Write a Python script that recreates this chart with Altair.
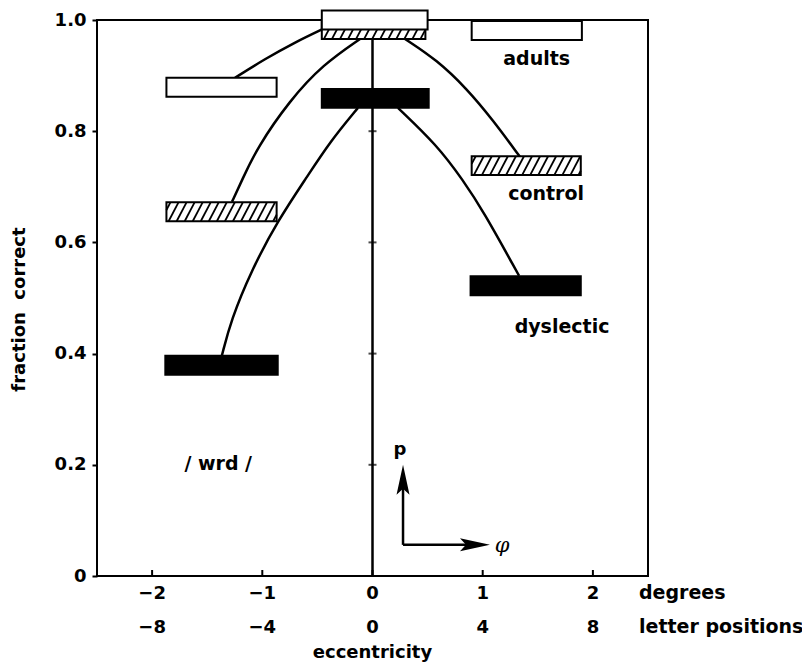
import altair as alt
import pandas as pd

# ---------------- data ----------------
# boxes: eccentricity extent (degrees) and fraction correct
adults_lo = [-1.87, -0.46, 0.90]
adults_hi = [-0.87, 0.50, 1.90]
adults_p = [0.879, 1.000, 0.981]

control_lo = [-1.87, -0.46, 0.90]
control_hi = [-0.87, 0.48, 1.89]
control_p = [0.655, 0.983, 0.738]

dys_lo = [-1.88, -0.46, 0.89]
dys_hi = [-0.86, 0.51, 1.89]
dys_p = [0.379, 0.859, 0.522]

# connecting curves
curve_adults_left_x = [-1.248, -0.975, -0.703, -0.449]
curve_adults_left_y = [0.896, 0.930, 0.960, 0.984]
curve_control_left_x = [-1.275, -1.184, -1.048, -0.749, -0.449, -0.113]
curve_control_left_y = [0.673, 0.712, 0.770, 0.856, 0.920, 0.966]
curve_dys_left_x = [-1.366, -1.284, -1.103, -0.857, -0.594, -0.386, -0.132]
curve_dys_left_y = [0.397, 0.460, 0.548, 0.640, 0.718, 0.781, 0.842]
curve_control_right_x = [0.295, 0.585, 0.858, 1.093, 1.338]
curve_control_right_y = [0.966, 0.928, 0.876, 0.820, 0.754]
curve_dys_right_x = [0.231, 0.585, 0.821, 1.003, 1.330]
curve_dys_right_y = [0.842, 0.775, 0.712, 0.657, 0.540]

y_ticks = [0, 0.2, 0.4, 0.6, 0.8, 1.0]
center_marks = [0.2, 0.4, 0.6, 0.8]
deg_ticks = [-2, -1, 0, 1, 2]
letter_ticks = [-8, -4, 0, 4, 8]
LETTERS_PER_DEG = 4

group_labels = ["adults", "control", "dyslectic", "/ wrd /"]
group_label_x = [1.49, 1.575, 1.72, -1.40]
group_label_y = [0.919, 0.676, 0.437, 0.19]

# inset axes arrow (p vs phi)
arrow_x0, arrow_y0 = 0.277, 0.056
arrow_up_tip = 0.200
arrow_right_tip = 1.066

# ---------------- styling constants ----------------
W, H = 551, 556
X_DOM = [-2.5, 2.5]
BOX_HALF = 0.017          # half box height in data units
HATCH_SP = 0.073          # hatch spacing (x, data units)
HATCH_RUN = 0.09          # hatch horizontal run over box height
FONT = "DejaVu Sans"

xs = alt.Scale(domain=X_DOM)
ys = alt.Scale(domain=[0, 1])

yaxis = alt.Axis(
    values=y_ticks,
    labelExpr="datum.value == 0 ? '0' : format(datum.value, '.1f')",
    title="fraction\u00a0\u00a0correct",
    titleX=-78, titleY=289, titleAngle=270, titleAlign="center",
    titleBaseline="middle",
    domain=False, grid=False, tickSize=5, tickWidth=2, tickColor="black",
    labelPadding=6,
)


def X(field):
    return alt.X(field, type="quantitative", scale=xs, axis=None)


def Y(field):
    return alt.Y(field, type="quantitative", scale=ys, axis=yaxis)


def boxes(lo, hi, p):
    return pd.DataFrame({
        "x1": lo, "x2": hi,
        "y1": [v - BOX_HALF for v in p], "y2": [v + BOX_HALF for v in p],
    })


def hatch(lo, hi, p):
    rows = []
    for a, b, v in zip(lo, hi, p):
        yl, yh = v - BOX_HALF, v + BOX_HALF
        s = a - HATCH_RUN + HATCH_SP / 2
        while s < b:
            xa, ya, xb, yb = s, yl, s + HATCH_RUN, yh
            if xa < a:
                ya = yl + (a - s) / HATCH_RUN * (yh - yl)
                xa = a
            if xb > b:
                yb = yl + (b - s) / HATCH_RUN * (yh - yl)
                xb = b
            if xb > xa:
                rows.append({"x1": xa, "y1": ya, "x2": xb, "y2": yb})
            s += HATCH_SP
    return pd.DataFrame(rows)


curves = []
for name, cx, cy in [
    ("al", curve_adults_left_x, curve_adults_left_y),
    ("cl", curve_control_left_x, curve_control_left_y),
    ("dl", curve_dys_left_x, curve_dys_left_y),
    ("cr", curve_control_right_x, curve_control_right_y),
    ("dr", curve_dys_right_x, curve_dys_right_y),
]:
    for a, b in zip(cx, cy):
        curves.append({"curve": name, "x": a, "y": b})
curves = pd.DataFrame(curves)

# zero line
zero = alt.Chart(pd.DataFrame({"x": [0]})).mark_rule(
    color="black", strokeWidth=2.5).encode(x=X("x"))

center_ticks = alt.Chart(pd.DataFrame({"x": [0] * len(center_marks), "y": center_marks})).mark_tick(
    orient="horizontal", color="black", size=8, thickness=2).encode(x=X("x"), y=Y("y"))

bottom_ticks = alt.Chart(pd.DataFrame({"x": deg_ticks})).mark_rule(
    color="black", strokeWidth=2).encode(x=X("x"), y=alt.value(H), y2=alt.value(H - 6))

lines = alt.Chart(curves).mark_line(
    color="black", strokeWidth=2.5, interpolate="basis").encode(
    x=X("x"), y=Y("y"), detail="curve:N")

control_rect = alt.Chart(boxes(control_lo, control_hi, control_p)).mark_rect(
    fill="white", stroke="black", strokeWidth=2).encode(
    x=X("x1"), x2="x2", y=Y("y1"), y2="y2")
control_hatch = alt.Chart(hatch(control_lo, control_hi, control_p)).mark_rule(
    color="black", strokeWidth=1.8).encode(
    x=X("x1"), x2="x2", y=Y("y1"), y2="y2")
adults_rect = alt.Chart(boxes(adults_lo, adults_hi, adults_p)).mark_rect(
    fill="white", stroke="black", strokeWidth=2).encode(
    x=X("x1"), x2="x2", y=Y("y1"), y2="y2")
dys_rect = alt.Chart(boxes(dys_lo, dys_hi, dys_p)).mark_rect(
    fill="black", stroke="black", strokeWidth=2).encode(
    x=X("x1"), x2="x2", y=Y("y1"), y2="y2")

labels = alt.Chart(pd.DataFrame({"t": group_labels, "x": group_label_x, "y": group_label_y})).mark_text(
    font=FONT, fontWeight="bold", fontSize=19, color="black", align="center",
    baseline="alphabetic").encode(x=X("x"), y=Y("y"), text="t:N")

# x tick labels (two rows)
deg_lab = alt.Chart(pd.DataFrame({
    "x": deg_ticks,
    "t": [("\u2212" + str(-v)) if v < 0 else str(v) for v in deg_ticks]})).mark_text(
    font=FONT, fontWeight="bold", fontSize=18, color="black", align="center",
    baseline="alphabetic").encode(x=X("x"), y=alt.value(579), text="t:N")
let_lab = alt.Chart(pd.DataFrame({
    "x": [v / LETTERS_PER_DEG for v in letter_ticks],
    "t": [("\u2212" + str(-v)) if v < 0 else str(v) for v in letter_ticks]})).mark_text(
    font=FONT, fontWeight="bold", fontSize=18, color="black", align="center",
    baseline="alphabetic").encode(x=X("x"), y=alt.value(613), text="t:N")

row_titles = alt.Chart(pd.DataFrame({
    "t": ["degrees", "letter positions"], "py": [579, 613]})).mark_text(
    font=FONT, fontWeight="bold", fontSize=19, color="black", align="left",
    baseline="alphabetic").encode(x=alt.value(542), y=alt.Y("py:Q", scale=None), text="t:N")

ecc = alt.Chart(pd.DataFrame({"x": [0], "t": ["eccentricity"]})).mark_text(
    font=FONT, fontWeight="bold", fontSize=18, color="black", align="center",
    baseline="alphabetic").encode(x=X("x"), y=alt.value(638), text="t:N")

# inset arrows
arr_lines = alt.Chart(pd.DataFrame({
    "x1": [arrow_x0, arrow_x0], "y1": [arrow_y0, arrow_y0],
    "x2": [arrow_x0, arrow_right_tip - 0.15], "y2": [arrow_up_tip - 0.04, arrow_y0]})).mark_rule(
    color="black", strokeWidth=2.5).encode(x=X("x1"), x2="x2", y=Y("y1"), y2="y2")
arr_up = alt.Chart(pd.DataFrame({"x": [arrow_x0], "y": [arrow_up_tip]})).mark_point(
    shape="M0,0L0.65,3L0,2.4L-0.65,3Z", filled=True, fill="black", strokeWidth=0,
    size=400, opacity=1).encode(x=X("x"), y=Y("y"))
arr_right = alt.Chart(pd.DataFrame({"x": [arrow_right_tip], "y": [arrow_y0]})).mark_point(
    shape="M0,0L-3,-0.65L-2.4,0L-3,0.65Z", filled=True, fill="black", strokeWidth=0,
    size=400, opacity=1).encode(x=X("x"), y=Y("y"))
p_lab = alt.Chart(pd.DataFrame({"x": [0.25], "y": [0.218], "t": ["p"]})).mark_text(
    font=FONT, fontWeight="bold", fontSize=18, color="black", align="center",
    baseline="alphabetic").encode(x=X("x"), y=Y("y"), text="t:N")
phi_lab = alt.Chart(pd.DataFrame({"x": [1.175], "y": [0.054], "t": ["\u03c6"]})).mark_text(
    font="DejaVu Serif", fontStyle="italic", fontSize=21, color="black", align="center",
    baseline="middle").encode(x=X("x"), y=Y("y"), text="t:N")

chart = alt.layer(
    zero, center_ticks, bottom_ticks, lines,
    control_rect, control_hatch, adults_rect, dys_rect,
    labels, deg_lab, let_lab, row_titles, ecc,
    arr_lines, arr_up, arr_right, p_lab, phi_lab,
).properties(
    width=W, height=H,
    padding={"left": 89, "top": 12, "right": 154, "bottom": 87},
    autosize=alt.AutoSizeParams(type="none"),
    background="white",
).configure_view(
    stroke="black", strokeWidth=2
).configure_axis(
    labelFont=FONT, labelFontWeight="bold", labelFontSize=18, labelColor="black",
    titleFont=FONT, titleFontWeight="bold", titleFontSize=18, titleColor="black",
)

chart.save("out.html", embed_options={"renderer": "svg", "actions": False})
